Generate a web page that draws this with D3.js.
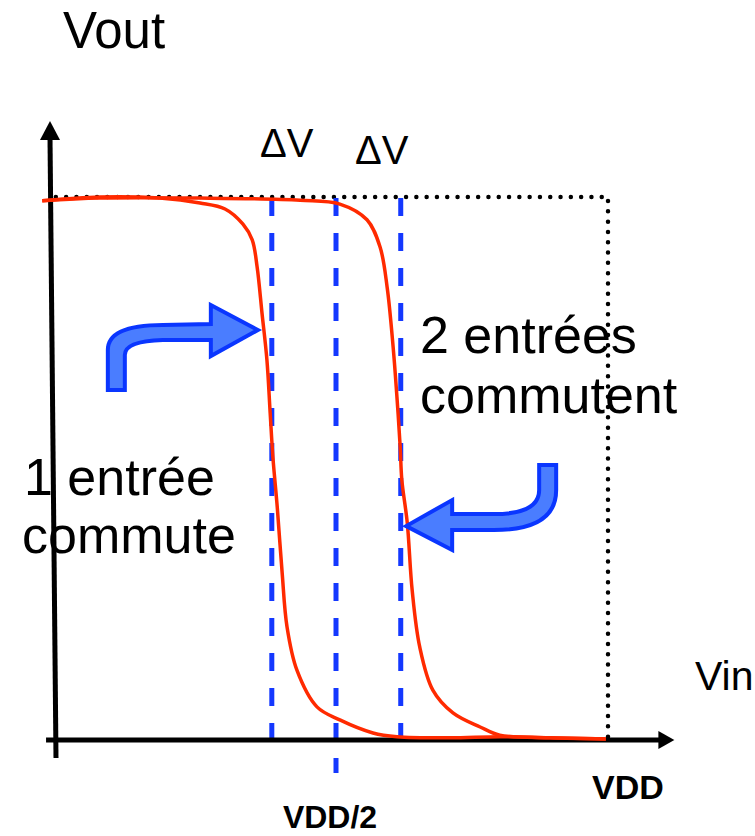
<!DOCTYPE html>
<html>
<head>
<meta charset="utf-8">
<script src="https://cdn.jsdelivr.net/npm/d3@7"></script>
<style>
  body { margin: 0; background: #fff; }
  text { font-family: "Liberation Sans", Arial, sans-serif; fill: #000; }
</style>
</head>
<body>
<div id="chart"></div>
<script>
// Vin / VDD and Vout / VDD for the two transfer curves
const oneInput = [
  [-0.040, 0.993], [0.066, 1.000], [0.176, 0.998], [0.250, 0.989], [0.296, 0.978],
  [0.329, 0.950], [0.346, 0.921], [0.355, 0.871], [0.364, 0.786], [0.373, 0.700],
  [0.379, 0.602], [0.384, 0.521], [0.392, 0.429], [0.401, 0.308], [0.410, 0.208],
  [0.428, 0.129], [0.465, 0.061], [0.507, 0.037], [0.568, 0.013], [0.612, 0.006],
  [0.710, 0.004], [0.801, 0.006], [0.893, 0.004], [0.996, 0.002]
];
const twoInputs = [
  [-0.040, 0.993], [0.066, 0.998], [0.250, 0.998], [0.434, 0.994], [0.507, 0.987],
  [0.557, 0.958], [0.581, 0.908], [0.594, 0.834], [0.605, 0.724], [0.612, 0.632],
  [0.618, 0.540], [0.621, 0.479], [0.631, 0.400], [0.640, 0.276], [0.654, 0.171],
  [0.678, 0.092], [0.715, 0.050], [0.765, 0.024], [0.801, 0.009], [0.893, 0.004],
  [0.996, 0.002]
];
// switching thresholds: 1 input, VDD/2, 2 inputs
const thresholds = [0.382, 0.5, 0.619];
const deltaLabels = ["\u0394V", "\u0394V"];
const tickLabels = [{v: 0.5, t: "VDD/2"}, {v: 1, t: "VDD"}];

const width = 755, height = 836;

const svg = d3.select("#chart").append("svg")
  .attr("width", width)
  .attr("height", height);

const x = d3.scaleLinear().domain([0, 1]).range([64, 608]);
const y = d3.scaleLinear().domain([0, 1]).range([740, 197]);

// dotted box at Vout = VDD and Vin = VDD
svg.append("path")
  .attr("d", `M${x(-0.015)},${y(1)} L${x(1)},${y(1)} L${x(1)},${y(0)}`)
  .attr("fill", "none")
  .attr("stroke", "#000")
  .attr("stroke-width", 4.5)
  .attr("stroke-linecap", "round")
  .attr("stroke-dasharray", "0,10.3");

// dashed threshold lines
svg.selectAll(".thr")
  .data(thresholds)
  .enter()
  .append("line")
  .attr("class", "thr")
  .attr("x1", d => x(d))
  .attr("x2", d => x(d))
  .attr("y1", y(1) + 1)
  .attr("y2", (d, i) => i === 1 ? y(0) + 33 : y(0))
  .attr("stroke", "#1438ff")
  .attr("stroke-width", 5)
  .attr("stroke-dasharray", "18,17");

// axes
svg.append("line")
  .attr("x1", x(-0.033)).attr("y1", y(0))
  .attr("x2", x(1.1)).attr("y2", y(0))
  .attr("stroke", "#000").attr("stroke-width", 5);
svg.append("path")
  .attr("d", `M${x(1.1) - 4},${y(0) - 9} L${x(1.122)},${y(0)} L${x(1.1) - 4},${y(0) + 9} Z`)
  .attr("fill", "#000");

svg.append("line")
  .attr("x1", 56).attr("y1", y(-0.033))
  .attr("x2", 50).attr("y2", y(1.11))
  .attr("stroke", "#000").attr("stroke-width", 5);
svg.append("path")
  .attr("d", `M40,${y(1.105)} L50,${y(1.14)} L60,${y(1.105)} Z`)
  .attr("fill", "#000");

// transfer curves
const line = d3.line()
  .x(d => x(d[0]))
  .y(d => y(d[1]))
  .curve(d3.curveCatmullRom.alpha(0.5));

svg.selectAll(".curve")
  .data([oneInput, twoInputs])
  .enter()
  .append("path")
  .attr("class", "curve")
  .attr("d", line)
  .attr("fill", "none")
  .attr("stroke", "#ff2a00")
  .attr("stroke-width", 3.5);

// curved blue arrows pointing at each curve
function arrowPath(tx, ty, dir) {
  // dir = 1 : comes from lower left, points right ; dir = -1 : from upper right, points left
  const s = dir;
  const p = (dx, dy) => `${tx + s * dx},${ty + dy}`;
  if (dir === 1) {
    return `M${p(-150, 60)} L${p(-150, 20)} Q${p(-150, -5)} ${p(-95, -5)} L${p(-47, -6)} L${p(-47, -25)} L${p(0, 0)} L${p(-47, 26)} L${p(-47, 10)} L${p(-95, 10)} Q${p(-133, 11)} ${p(-133, 25)} L${p(-133, 60)} Z`;
  }
  return `M${p(-133, -61)} L${p(-150, -61)} L${p(-150, -36)} Q${p(-150, 4)} ${p(-88, 4)} L${p(-46, 4)} L${p(-46, 24)} L${p(0, 0)} L${p(-46, -26)} L${p(-46, -12)} L${p(-88, -12)} Q${p(-133, -12)} ${p(-133, -36)} Z`;
}

svg.append("path")
  .attr("d", arrowPath(x(0.360) - 2, y(0.755), 1))
  .attr("fill", "#4a7dff")
  .attr("stroke", "#0a36ff")
  .attr("stroke-width", 4)
  .attr("stroke-linejoin", "miter");

svg.append("path")
  .attr("d", arrowPath(x(0.640) - 6, y(0.394), -1))
  .attr("fill", "#4a7dff")
  .attr("stroke", "#0a36ff")
  .attr("stroke-width", 4)
  .attr("stroke-linejoin", "miter");

// ΔV labels above the outer threshold lines
svg.selectAll(".dv")
  .data(deltaLabels)
  .enter()
  .append("text")
  .attr("class", "dv")
  .attr("x", (d, i) => i === 0 ? 260 : 355)
  .attr("y", (d, i) => i === 0 ? 157 : 164)
  .attr("font-size", 40)
  .text(d => d);

// tick labels
svg.selectAll(".tick")
  .data(tickLabels)
  .enter()
  .append("text")
  .attr("class", "tick")
  .attr("x", d => d.v === 1 ? x(d.v) + 20 : x(d.v) - 6)
  .attr("y", d => d.v === 1 ? 799 : 828)
  .attr("text-anchor", "middle")
  .attr("font-weight", "bold")
  .attr("font-size", d => d.v === 1 ? 34 : 32)
  .text(d => d.t);

// axis titles
svg.append("text").attr("x", 63).attr("y", 48).attr("font-size", 51).text("Vout");
svg.append("text").attr("x", 695).attr("y", 690).attr("font-size", 41).text("Vin");

// annotations
const ann1 = svg.append("text").attr("font-size", 52);
ann1.append("tspan").attr("x", 420).attr("y", 353).text("2 entrées");
ann1.append("tspan").attr("x", 420).attr("y", 413).text("commutent");

const ann2 = svg.append("text").attr("font-size", 52);
ann2.append("tspan").attr("x", 24).attr("y", 495).text("1 entrée");
ann2.append("tspan").attr("x", 22).attr("y", 553).text("commute");
</script>
</body>
</html>
